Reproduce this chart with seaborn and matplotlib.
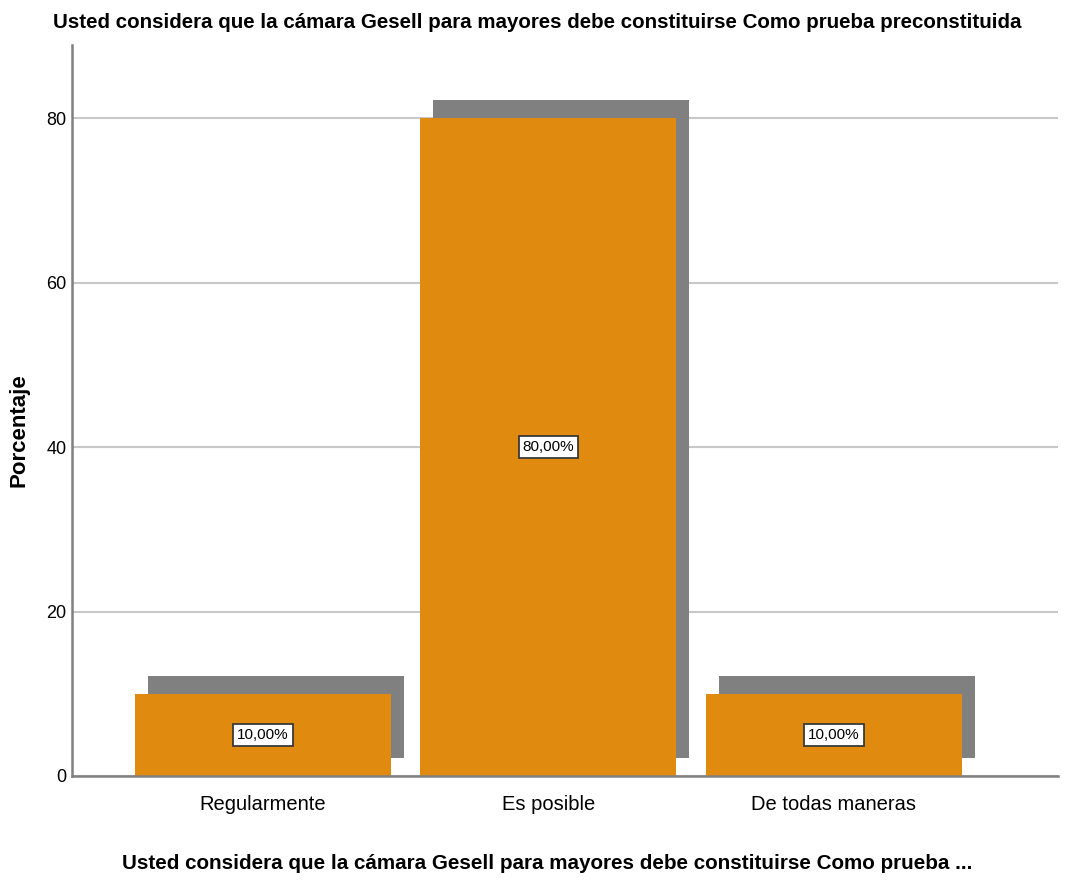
import matplotlib
matplotlib.use("Agg")
import matplotlib.pyplot as plt
import matplotlib.transforms as mtransforms
import pandas as pd
import seaborn as sns

# Data
categories = ["Regularmente", "Es posible", "De todas maneras"]
percentages = [10.0, 80.0, 10.0]
value_labels = ["10,00%", "80,00%", "10,00%"]
y_ticks = [0, 20, 40, 60, 80]

title = ("Usted considera que la cámara Gesell para mayores debe "
         "constituirse Como prueba preconstituida")
x_title = ("Usted considera que la cámara Gesell para mayores debe "
           "constituirse Como prueba ...")

df = pd.DataFrame({"categoria": categories, "porcentaje": percentages})

sns.set_theme(style="white")
narrow = ["Liberation Sans Narrow", "Liberation Sans", "DejaVu Sans"]
plt.rcParams["font.family"] = narrow
plt.rcParams["text.color"] = "black"
plt.rcParams["axes.labelcolor"] = "black"
plt.rcParams["xtick.color"] = "black"
plt.rcParams["ytick.color"] = "black"

fig = plt.figure(figsize=(10.73, 8.81), dpi=100)
ax = fig.add_axes([0.0671, 0.1192, 0.9189, 0.8297])

# drop shadow bars, shifted up and right
sns.barplot(data=df, x="categoria", y="porcentaje", color="#808080",
            saturation=1, width=0.897, linewidth=0, ax=ax)
offset = mtransforms.ScaledTranslation(0.13, 0.18, fig.dpi_scale_trans)
for p in ax.patches:
    p.set_transform(ax.transData + offset)
    p.set_zorder(2)
n_shadow = len(ax.patches)

# main bars
sns.barplot(data=df, x="categoria", y="porcentaje", color="#E08A0F",
            saturation=1, width=0.897, linewidth=0, ax=ax)
for p in ax.patches[n_shadow:]:
    p.set_zorder(3)

for i, (v, lab) in enumerate(zip(percentages, value_labels)):
    ax.text(i, v / 2, lab, ha="center", va="center", fontsize=11, zorder=5,
            bbox=dict(boxstyle="square,pad=0.25", fc="white", ec="#3a3a3a", lw=1.3))

ax.set_xlim(-0.669, 2.785)
ax.set_ylim(0, 88.9)
ax.set_yticks(y_ticks)
ax.yaxis.grid(True, color="#c8c8c8", lw=1.5)
ax.set_axisbelow(True)

for s in ["top", "right"]:
    ax.spines[s].set_visible(False)
for s in ["left", "bottom"]:
    ax.spines[s].set_color("#808080")
    ax.spines[s].set_linewidth(1.8)
    ax.spines[s].set_zorder(4)

ax.tick_params(axis="y", length=0, labelsize=13, pad=4)
ax.tick_params(axis="x", length=0, labelsize=14.5, pad=14)

ax.set_ylabel("Porcentaje", fontsize=16, fontweight="bold",
              family=["Liberation Sans", "DejaVu Sans"])
ax.yaxis.set_label_coords(-0.0436, 0.473)
ax.set_xlabel(x_title, fontsize=14.9, fontweight="bold")
ax.xaxis.set_label_coords(0.4817, -0.107)

fig.text(0.5005, 1 - 22 / 881, title, ha="center", va="center",
         fontsize=14.8, fontweight="bold")

fig.savefig("out.png", dpi=100)
